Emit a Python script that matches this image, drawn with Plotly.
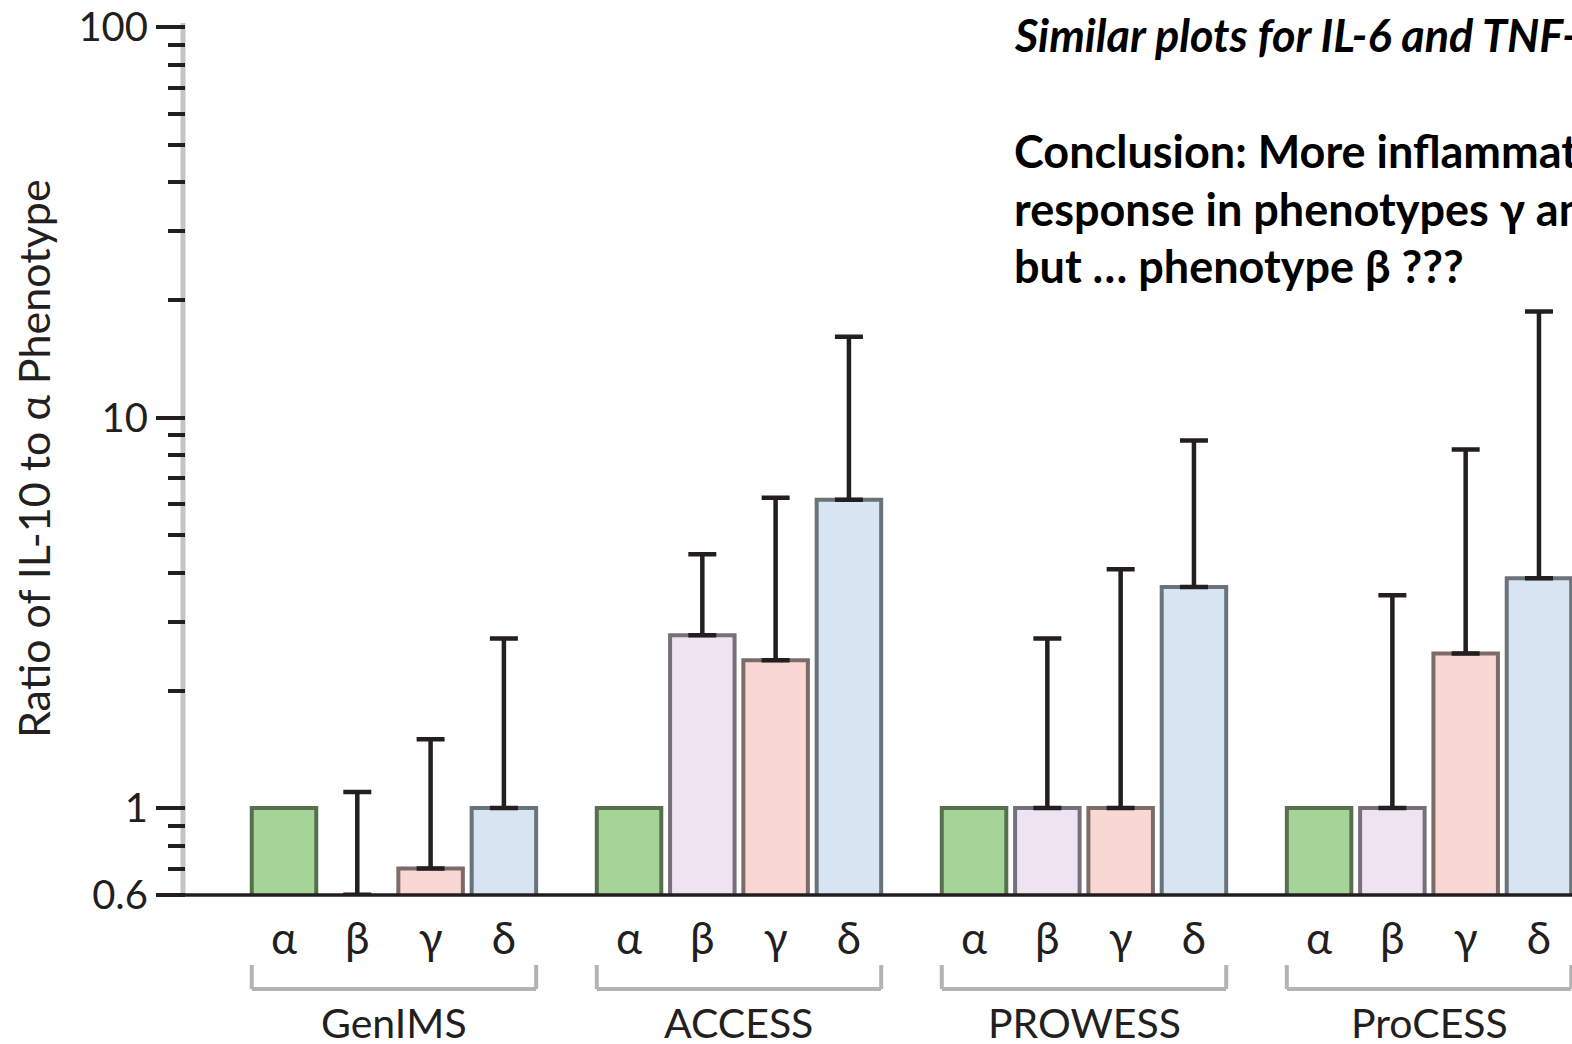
import math
import plotly.graph_objects as go

# ---------------- data ----------------
groups = ["GenIMS", "ACCESS", "PROWESS", "ProCESS"]
phenotypes = ["α", "β", "γ", "δ"]

# ratio of IL-10 relative to phenotype α (bar heights)
ratio_alpha = [1.0, 1.0, 1.0, 1.0]
ratio_beta = [0.6, 2.77, 1.0, 1.0]
ratio_gamma = [0.70, 2.39, 1.0, 2.49]
ratio_delta = [1.0, 6.16, 3.68, 3.88]

# upper end of the error bars
upper_beta = [1.10, 4.47, 2.72, 3.51]
upper_gamma = [1.50, 6.23, 4.09, 8.28]
upper_delta = [2.72, 16.1, 8.73, 18.7]

y_tick_vals = [0.6, 1, 10, 100]
y_tick_text = ["0.6", "1", "10", "100"]
y_minor_vals = [0.7, 0.8, 0.9, 2, 3, 4, 5, 6, 7, 8, 9, 20, 30, 40, 50, 60, 70, 80, 90]

note_lines = [
    "<i>Similar plots for IL-6 and TNF-α</i>",
    "Conclusion: More inflammatory",
    "response in phenotypes γ and δ,",
    "but … phenotype β ???",
]

# ---------------- style ----------------
W, H = 1572, 1044
L, R, T, B = 186, 0, 23, 149
plot_w = W - L - R
plot_h = H - T - B
GROUP_STEP = 4.707
BAR_W = 0.88
INK = "#231f20"
FONT = "Lato, 'Open Sans', sans-serif"

fills = ["#a6d498", "#eee3f0", "#f9d8d3", "#d7e4f1"]
edges = ["#56704e", "#77707a", "#7d6b69", "#6a727a"]

values = [ratio_alpha, ratio_beta, ratio_gamma, ratio_delta]
uppers = [None, upper_beta, upper_gamma, upper_delta]

fig = go.Figure()
for j, ph in enumerate(phenotypes):
    xs = [g * GROUP_STEP + j for g in range(len(groups))]
    vals = values[j]
    lw = [0 if v <= 0.6 else 4 for v in vals]
    err = None
    if uppers[j] is not None:
        err = dict(type="data", symmetric=False,
                   array=[u - v for u, v in zip(uppers[j], vals)],
                   arrayminus=[0] * len(vals),
                   color=INK, thickness=4.5, width=14)
    fig.add_trace(go.Bar(
        x=xs, y=vals, width=BAR_W, name=ph,
        marker=dict(color=fills[j], line=dict(color=edges[j], width=lw)),
        error_y=err, showlegend=False,
    ))

tick_x = [g * GROUP_STEP + j for g in range(len(groups)) for j in range(len(phenotypes))]
tick_t = [phenotypes[j] for g in range(len(groups)) for j in range(len(phenotypes))]

px_per_unit = 73.3
x0 = -(284 - L) / px_per_unit
x1 = x0 + plot_w / px_per_unit

y_lo = math.log10(0.6) - 0.0006
y_hi = math.log10(100) + (27 - T) / 390.5

fig.update_layout(
    width=W, height=H,
    margin=dict(l=L, r=R, t=T, b=B, pad=0),
    paper_bgcolor="white", plot_bgcolor="white",
    barmode="overlay",
    font=dict(family=FONT, color=INK),
    xaxis=dict(range=[x0, x1], showgrid=False, zeroline=False, showline=False,
               tickmode="array", tickvals=tick_x, ticktext=tick_t,
               ticks="", tickfont=dict(size=44, color=INK, family=FONT),
               ticklabelstandoff=14),
    yaxis=dict(type="log", range=[y_lo, y_hi], showgrid=False, zeroline=False,
               showline=False, tickmode="array", tickvals=y_tick_vals,
               ticktext=y_tick_text, ticks="outside", ticklen=29, tickwidth=3.5,
               tickcolor=INK, tickfont=dict(size=40, color=INK, family=FONT),
               ticklabelstandoff=0,
               minor=dict(tickmode="array", tickvals=y_minor_vals, ticks="outside",
                          ticklen=17, tickwidth=3.5, tickcolor=INK)),
)

shapes = []
# grey y-axis line
shapes.append(dict(type="line", xref="paper", yref="paper",
                   x0=-3 / plot_w, x1=-3 / plot_w, y0=0, y1=1,
                   line=dict(color="#c4c4c4", width=5), layer="below"))
# black baseline
shapes.append(dict(type="line", xref="paper", yref="paper",
                   x0=-(L - 169) / plot_w, x1=1.01, y0=0, y1=0,
                   line=dict(color=INK, width=3.5), layer="above"))
# group brackets
yb = -(989 - (T + plot_h)) / plot_h
yt = -(965 - (T + plot_h)) / plot_h
for g in range(len(groups)):
    xa = g * GROUP_STEP - BAR_W / 2
    xb = g * GROUP_STEP + 3 + BAR_W / 2
    for seg in [(xa, yb, xb, yb), (xa, yt, xa, yb), (xb, yt, xb, yb)]:
        shapes.append(dict(type="line", xref="x", yref="paper",
                           x0=seg[0], y0=seg[1], x1=seg[2], y1=seg[3],
                           line=dict(color="#b3b3b3", width=4)))
fig.update_layout(shapes=shapes)

ann = []
for g, name in enumerate(groups):
    ann.append(dict(x=g * GROUP_STEP + 1.5, xref="x",
                    y=-(996 - (T + plot_h)) / plot_h, yref="paper",
                    text=name, showarrow=False, xanchor="center", yanchor="top",
                    font=dict(size=41, color=INK, family=FONT)))
# y-axis title
ann.append(dict(x=-(L - 33) / plot_w, xref="paper", y=(T + plot_h - 459) / plot_h,
                yref="paper", text="Ratio of IL-10 to α Phenotype", textangle=-90,
                showarrow=False, xanchor="center", yanchor="middle",
                font=dict(size=43, color=INK, family=FONT)))
# note text
baselines = [50, 166, 224, 281]
for line, bl in zip(note_lines, baselines):
    ann.append(dict(x=(1012 - L) / plot_w, xref="paper",
                    y=(T + plot_h - (bl - 15)) / plot_h, yref="paper",
                    text="<b>" + line + "</b>", showarrow=False,
                    xanchor="left", yanchor="middle", align="left",
                    font=dict(size=45, color="black", family=FONT)))
fig.update_layout(annotations=ann)

fig.write_html("out.html", config={"displayModeBar": False},
               post_script="document.body.style.margin='0';")
